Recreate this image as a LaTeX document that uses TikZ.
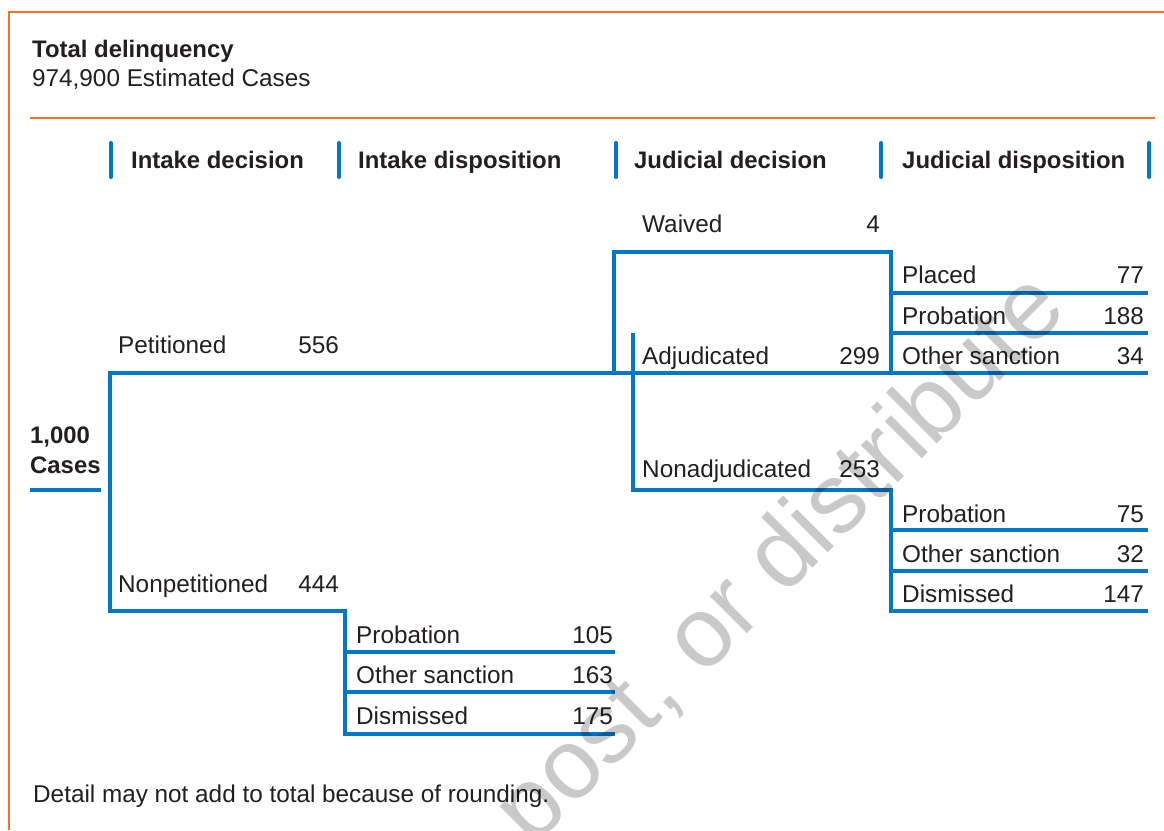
\documentclass[tikz,border=0pt]{standalone}
\usepackage{fontspec}
\setmainfont{Liberation Sans}
\definecolor{tblue}{RGB}{0,120,200}
\definecolor{torange}{RGB}{242,113,40}
\definecolor{ttext}{RGB}{35,31,32}
\tikzset{
  lbl/.style={anchor=base west, inner sep=0pt, text=ttext, font=\fontsize{24.3}{29}\selectfont},
  num/.style={anchor=base east, inner sep=0pt, text=ttext, font=\fontsize{24.3}{29}\selectfont},
  hdr/.style={anchor=base west, inner sep=0pt, text=ttext, font=\fontsize{23.9}{29}\selectfont\bfseries},
  bl/.style={draw=tblue, line width=4pt, line join=miter},
  bar/.style={draw=tblue, line width=4pt, line cap=round},
  orl/.style={draw=torange, line width=2.5pt},
}
\begin{document}
\begin{tikzpicture}[x=1pt,y=-1pt]
\useasboundingbox[fill=white] (0,0) rectangle (1164,830);
\begin{scope}
\clip (0,0) rectangle (1164,830);
% frame
\coordinate (fTR) at (1164,12);
\coordinate (fTL) at (9,12);
\coordinate (fBL) at (9,830);
\draw[orl] (fTR) -- (fTL) -- (fBL);
\coordinate (sepL) at (30,118);
\coordinate (sepR) at (1155,118);
\draw[orl] (sepL) -- (sepR);

% title
\node[hdr] (title) at (32,57) {Total delinquency};
\node[lbl] (subtitle) at (32,86) {974,900 Estimated Cases};

% headers
\foreach \x/\n in {111/b1,339/b2,616/b3,881/b4,1149/b5}{
  \coordinate (\n t) at (\x,143);
  \coordinate (\n b) at (\x,177);
  \draw[bar] (\n t) -- (\n b);
}
\node[hdr] (h1) at (131,168) {Intake decision};
\node[hdr] (h2) at (358,168) {Intake disposition};
\node[hdr] (h3) at (634,168) {Judicial decision};
\node[hdr] (h4) at (902,168) {Judicial disposition};

% root
\node[hdr] (root1) at (30,443) {1,000};
\node[hdr] (root2) at (30,473) {Cases};
\coordinate (rootL) at (30,490);
\coordinate (rootR) at (101,490);
\draw[bl] (rootL) -- (rootR);

% intake decision
\node[lbl] (pet) at (118,353) {Petitioned};
\node[num] (petn) at (339,353) {556};
\node[lbl] (npet) at (118,592) {Nonpetitioned};
\node[num] (npetn) at (339,592) {444};

\coordinate (petEnd) at (1148,373);
\coordinate (petC) at (110,373);
\coordinate (npetC) at (110,611);
\coordinate (npetR) at (345,611);
\coordinate (idB) at (345,734);
\coordinate (idBR) at (615,734);
\draw[bl] (petEnd) -- (petC) -- (npetC) -- (npetR) -- (idB) -- (idBR);

% intake disposition
\node[lbl] (ip) at (356,643) {Probation};
\node[num] (ipn) at (613,643) {105};
\node[lbl] (io) at (356,683) {Other sanction};
\node[num] (ion) at (613,683) {163};
\node[lbl] (idm) at (356,724) {Dismissed};
\node[num] (idmn) at (613,724) {175};
\coordinate (ipL) at (345,652);
\coordinate (ipR) at (615,652);
\coordinate (ioL) at (345,692);
\coordinate (ioR) at (615,692);
\draw[bl] (ipL) -- (ipR);
\draw[bl] (ioL) -- (ioR);

% judicial decision
\node[lbl] (wv) at (642,232) {Waived};
\node[num] (wvn) at (880,232) {4};
\node[lbl] (adj) at (642,364) {Adjudicated};
\node[num] (adjn) at (880,364) {299};
\node[lbl] (nadj) at (642,477) {Nonadjudicated};
\node[num] (nadjn) at (880,477) {253};

\coordinate (wvBL) at (614,373);
\coordinate (wvTL) at (614,252);
\coordinate (wvTR) at (891,252);
\coordinate (wvBR) at (891,373);
\draw[bl] (wvBL) -- (wvTL) -- (wvTR) -- (wvBR);

\coordinate (naT) at (633,333);
\coordinate (naB) at (633,490);
\coordinate (naR) at (891,490);
\coordinate (jdB) at (891,611);
\coordinate (jdBR) at (1148,611);
\draw[bl] (naT) -- (naB) -- (naR) -- (jdB) -- (jdBR);

% judicial disposition (adjudicated)
\node[lbl] (pl) at (902,283) {Placed};
\node[num] (pln) at (1144,283) {77};
\node[lbl] (jp1) at (902,324) {Probation};
\node[num] (jp1n) at (1144,324) {188};
\node[lbl] (jo1) at (902,364) {Other sanction};
\node[num] (jo1n) at (1144,364) {34};
\coordinate (plL) at (891,293);
\coordinate (plR) at (1148,293);
\coordinate (jp1L) at (891,333);
\coordinate (jp1R) at (1148,333);
\draw[bl] (plL) -- (plR);
\draw[bl] (jp1L) -- (jp1R);

% judicial disposition (nonadjudicated)
\node[lbl] (jp2) at (902,522) {Probation};
\node[num] (jp2n) at (1144,522) {75};
\node[lbl] (jo2) at (902,562) {Other sanction};
\node[num] (jo2n) at (1144,562) {32};
\node[lbl] (jd2) at (902,602) {Dismissed};
\node[num] (jd2n) at (1144,602) {147};
\coordinate (jp2L) at (891,530);
\coordinate (jp2R) at (1148,530);
\coordinate (jo2L) at (891,571);
\coordinate (jo2R) at (1148,571);
\draw[bl] (jp2L) -- (jp2R);
\draw[bl] (jo2L) -- (jo2R);

% note
\node[lbl] (note) at (33,802) {Detail may not add to total because of rounding.};

% watermark
\node[anchor=base west, inner sep=0pt, rotate=45, text=black, text opacity=0.21,
      font=\fontsize{99}{99}\selectfont] (wm) at (532,849) {post, or distribute};
\end{scope}
\end{tikzpicture}
\end{document}
